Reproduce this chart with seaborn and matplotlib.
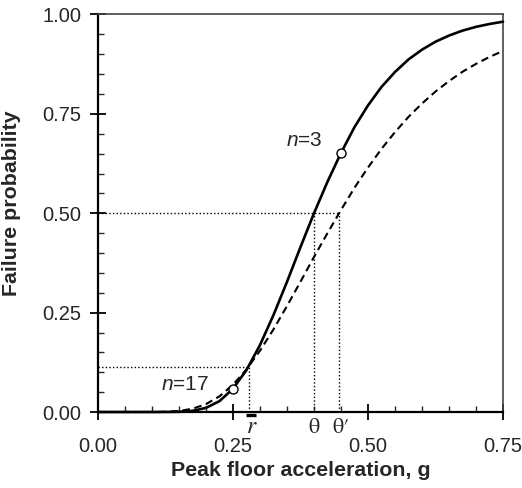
import matplotlib
matplotlib.use("Agg")
import matplotlib.pyplot as plt
from matplotlib.ticker import MultipleLocator
import pandas as pd
import seaborn as sns

# Peak floor acceleration grid (g)
pga = [0.000, 0.025, 0.050, 0.075, 0.100, 0.125, 0.150, 0.175, 0.200, 0.225,
       0.250, 0.275, 0.300, 0.325, 0.350, 0.375, 0.400, 0.425, 0.450, 0.475,
       0.500, 0.525, 0.550, 0.575, 0.600, 0.625, 0.650, 0.675, 0.700, 0.725,
       0.750]

# Fragility curve (solid)
p_fit = [0.0000, 0.0000, 0.0000, 0.0000, 0.0000, 0.0001, 0.0005, 0.0029, 0.0104, 0.0274,
         0.0586, 0.1056, 0.1685, 0.2440, 0.3275, 0.4149, 0.5000, 0.5793, 0.6517, 0.7167,
         0.7713, 0.8178, 0.8554, 0.8869, 0.9115, 0.9315, 0.9470, 0.9594, 0.9689, 0.9761,
         0.9819]

# Fragility curve (dashed)
p_alt = [0.0000, 0.0000, 0.0000, 0.0000, 0.0001, 0.0006, 0.0026, 0.0082, 0.0199, 0.0395,
         0.0688, 0.1073, 0.1543, 0.2080, 0.2666, 0.3278, 0.3901, 0.4500, 0.5082, 0.5641,
         0.6149, 0.6620, 0.7040, 0.7425, 0.7760, 0.8062, 0.8325, 0.8560, 0.8758, 0.8932,
         0.9083]

# Marked test points on the solid curve
pt_x = [0.25, 0.45]
pt_y = [0.0586, 0.6517]
pt_labels = ["17", "3"]

# Reference values
theta = 0.40
theta_prime = 0.446
r_val = 0.28
p_r = 0.114
p_half = 0.50

xticks = [0.00, 0.25, 0.50, 0.75]
yticks = [0.00, 0.25, 0.50, 0.75, 1.00]

sns.set_style("ticks")
plt.rcParams["font.family"] = ["Liberation Sans", "DejaVu Sans"]
plt.rcParams["mathtext.fontset"] = "custom"
plt.rcParams["mathtext.it"] = "Liberation Sans:italic"
plt.rcParams["mathtext.rm"] = "Liberation Sans"

fig = plt.figure(figsize=(5.22, 4.88), dpi=100)
ax = fig.add_axes([0.1877, 0.1557, 0.7759, 0.8146])

curves = pd.DataFrame({"pga": pga, "solid": p_fit, "dashed": p_alt})
points = pd.DataFrame({"pga": pt_x, "p": pt_y, "n": pt_labels})

# Dotted guide lines
dot = dict(color="black", lw=1.0, linestyle=(0, (1.0, 1.6)), zorder=1)
ax.plot([0, theta_prime], [p_half, p_half], **dot)
ax.plot([theta, theta], [0, p_half], **dot)
ax.plot([theta_prime, theta_prime], [0, p_half], **dot)
ax.plot([0, r_val], [p_r, p_r], **dot)
ax.plot([r_val, r_val], [0, p_r], **dot)

sns.lineplot(data=curves, x="pga", y="dashed", ax=ax, color="black", lw=1.5,
             linestyle=(0, (3.6, 2.2)), clip_on=False, zorder=3)
sns.lineplot(data=curves, x="pga", y="solid", ax=ax, color="black", lw=1.9,
             clip_on=False, zorder=4)
sns.scatterplot(data=points, x="pga", y="p", ax=ax, s=42, color="white",
                edgecolor="black", linewidth=1.0, zorder=5, clip_on=False)

# Point labels
ax.text(0.117, 0.070, r"$n$=17", fontsize=15, ha="left", va="center")
ax.text(0.349, 0.684, r"$n$=3", fontsize=15, ha="left", va="center")

# Symbols under the axis
xt = ax.get_xaxis_transform()
serif = ["STIXGeneral", "Liberation Serif", "DejaVu Serif"]
ax.text(theta, -0.053, "θ", transform=xt, ha="center", va="baseline",
        fontsize=16, family=serif)
ax.text(theta_prime + 0.005, -0.053, "θ′", transform=xt, ha="center",
        va="baseline", fontsize=16, family=serif)
ax.text(r_val + 0.004, -0.053, "r", transform=xt, ha="center", va="baseline",
        fontsize=17, family=serif, style="italic")
ax.plot([r_val - 0.006, r_val + 0.012], [-0.008, -0.008], transform=xt,
        color="black", lw=2.4, clip_on=False, solid_capstyle="butt")

ax.set_xlim(0, 0.75)
ax.set_ylim(0, 1.0)
ax.set_xticks(xticks)
ax.set_yticks(yticks)
ax.set_xticklabels([f"{v:.2f}" for v in xticks])
ax.set_yticklabels([f"{v:.2f}" for v in yticks])
ax.xaxis.set_minor_locator(MultipleLocator(0.05))
ax.yaxis.set_minor_locator(MultipleLocator(0.05))
ax.tick_params(which="major", direction="inout", length=12, width=1.3,
               labelsize=14.5, color="black")
ax.tick_params(axis="x", which="major", pad=12)
ax.tick_params(axis="y", which="major", pad=6)
ax.tick_params(which="minor", direction="in", length=4, width=1.0)

for side in ("left", "bottom"):
    ax.spines[side].set_linewidth(1.6)
    ax.spines[side].set_color("black")
for side in ("top", "right"):
    ax.spines[side].set_visible(True)
    ax.spines[side].set_linewidth(1.2)
    ax.spines[side].set_color("#444444")

ax.set_xlabel("Peak floor acceleration, g", fontsize=15.4, fontweight="bold")
ax.set_ylabel("Failure probability", fontsize=15.4, fontweight="bold")
ax.xaxis.set_label_coords(0.5, -0.123)
ax.yaxis.set_label_coords(-0.19, 0.526)

fig.savefig("out.png", dpi=100)
